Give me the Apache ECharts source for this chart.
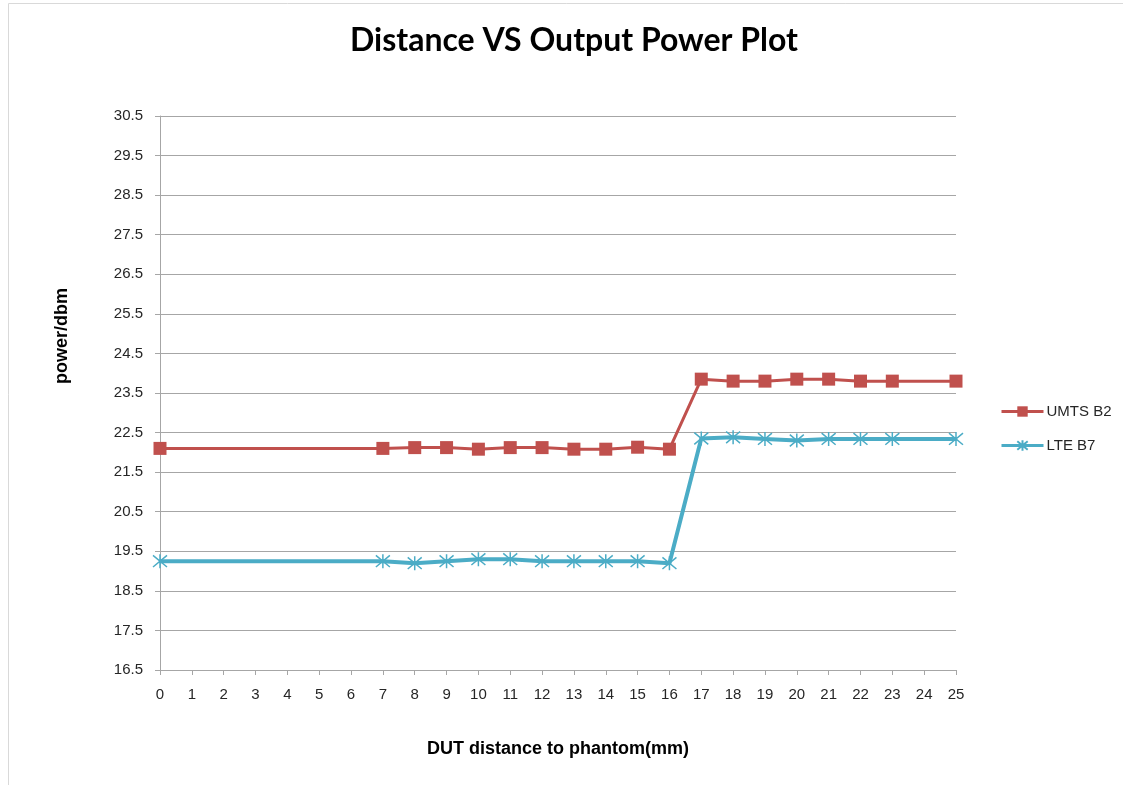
<!DOCTYPE html>
<html>
<head>
<meta charset="utf-8">
<script src="https://cdn.jsdelivr.net/npm/echarts@6/dist/echarts.min.js"></script>
<style>
  html, body { margin: 0; padding: 0; background: #fff; }
  #chart { width: 1123px; height: 785px; }
</style>
</head>
<body>
<div id="chart"></div>
<script>
// distance (mm) of each measurement
const distances = [0, 7, 8, 9, 10, 11, 12, 13, 14, 15, 16, 17, 18, 19, 20, 21, 22, 23, 25];
const umtsB2 = [22.1, 22.1, 22.12, 22.12, 22.08, 22.12, 22.12, 22.08, 22.08, 22.13, 22.08,
  23.85, 23.8, 23.8, 23.85, 23.85, 23.8, 23.8, 23.8];
const lteB7 = [19.25, 19.25, 19.2, 19.25, 19.3, 19.3, 19.25, 19.25, 19.25, 19.25, 19.2,
  22.35, 22.38, 22.34, 22.3, 22.34, 22.34, 22.34, 22.34];
const seriesNames = ['UMTS B2', 'LTE B7'];

const pairs = (ys) => distances.map((x, i) => [x, ys[i]]);

const asterisk = 'path://M0,0 L10,10 M10,0 L0,10 M5,-1 L5,11';
const gridColor = '#a6a6a6';
const labelColor = '#262626';

const chart = echarts.init(document.getElementById('chart'));
chart.setOption({
  animation: false,
  title: {
    text: 'Distance VS Output Power Plot',
    left: 569,
    top: 20,
    textAlign: 'center',
    textStyle: { fontFamily: 'Lato', fontWeight: 'bold', fontSize: 32, color: '#000' }
  },
  grid: { left: 160, right: 167, top: 116, bottom: 115 },
  legend: {
    orient: 'vertical',
    left: 995,
    top: 399,
    itemGap: 19,
    itemWidth: 42,
    itemHeight: 13,
    textStyle: { fontFamily: 'Liberation Sans', fontSize: 15, color: labelColor, padding: [0, 0, 0, -2] },
    lineStyle: { width: 3 },
    data: seriesNames
  },
  xAxis: {
    type: 'value',
    min: 0,
    max: 25,
    interval: 1,
    name: 'DUT distance to phantom(mm)',
    nameLocation: 'middle',
    nameGap: 70,
    nameTextStyle: { fontFamily: 'Liberation Sans', fontWeight: 'bold', fontSize: 18, color: '#000' },
    axisLine: { lineStyle: { color: gridColor, width: 1 } },
    axisTick: { show: true, length: 5, lineStyle: { color: gridColor } },
    axisLabel: { fontFamily: 'Liberation Sans', fontSize: 15, color: labelColor, margin: 17 },
    splitLine: { show: false }
  },
  yAxis: {
    type: 'value',
    min: 16.5,
    max: 30.5,
    interval: 1,
    axisLine: { show: true, lineStyle: { color: gridColor, width: 1 } },
    axisTick: { show: true, length: 5, lineStyle: { color: gridColor } },
    axisLabel: {
      fontFamily: 'Liberation Sans', fontSize: 15, color: labelColor, margin: 17,
      formatter: (v) => v.toFixed(1)
    },
    splitLine: { lineStyle: { color: gridColor, width: 1 } }
  },
  graphic: [
    {
      type: 'rect',
      shape: { x: 8.5, y: 3.5, width: 1120, height: 790 },
      style: { fill: 'none', stroke: '#d9d9d9', lineWidth: 1 },
      silent: true
    },
    {
      type: 'text',
      x: 62,
      y: 336,
      rotation: Math.PI / 2,
      style: {
        text: 'power/dbm',
        fontFamily: 'Liberation Sans',
        fontWeight: 'bold',
        fontSize: 18,
        fill: '#000',
        align: 'center',
        verticalAlign: 'middle'
      }
    }
  ],
  series: [
    {
      name: seriesNames[0],
      type: 'line',
      data: pairs(umtsB2),
      symbol: 'rect',
      symbolSize: 13,
      lineStyle: { color: '#c0504d', width: 3 },
      itemStyle: { color: '#c0504d' }
    },
    {
      name: seriesNames[1],
      type: 'line',
      data: pairs(lteB7),
      symbol: asterisk,
      symbolSize: 14,
      lineStyle: { color: '#4bacc6', width: 4 },
      itemStyle: { color: '#4bacc6', borderColor: '#4bacc6', borderWidth: 1.5 }
    }
  ]
});
</script>
</body>
</html>
